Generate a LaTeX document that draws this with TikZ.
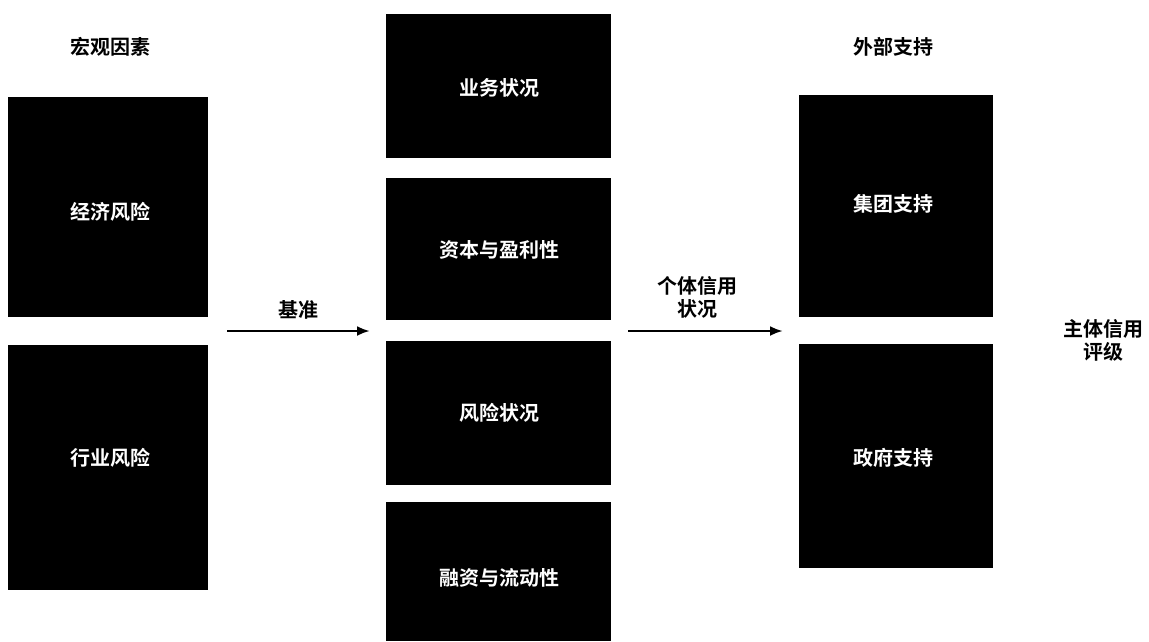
\documentclass[tikz,border=0pt]{standalone}
\usepackage{fontspec}
\newfontfamily\cjk{Noto Sans CJK SC Bold}
\usetikzlibrary{arrows.meta}
\begin{document}
\begin{tikzpicture}[x=1pt,y=-1pt,
  blk/.style={fill=black,draw=none},
  wt/.style={text=white,font=\cjk\fontsize{20}{22}\selectfont},
  bt/.style={text=black,font=\cjk\fontsize{20}{23}\selectfont,align=center},
  arr/.style={-{Latex[length=13pt,width=10pt]},line width=2.6pt}]
\useasboundingbox (0,0) rectangle (1149,641);
% left boxes
\fill[blk] (8,97) rectangle (208,317);
\fill[blk] (8,345) rectangle (208,590);
\node[wt] (econ) at (110,212) {经济风险};
\node[wt] (ind) at (110,458) {行业风险};
\node[bt] (macro) at (110,47) {宏观因素};
% middle boxes
\fill[blk] (386,14) rectangle (611,158);
\fill[blk] (386,178) rectangle (611,320);
\fill[blk] (386,341) rectangle (611,485);
\fill[blk] (386,502) rectangle (611,641);
\node[wt] (biz) at (499,88) {业务状况};
\node[wt] (cap) at (499,250) {资本与盈利性};
\node[wt] (risk) at (499,413) {风险状况};
\node[wt] (fund) at (499,578) {融资与流动性};
% right boxes
\fill[blk] (799,95) rectangle (993,317);
\fill[blk] (799,344) rectangle (993,568);
\node[wt] (grp) at (893,204) {集团支持};
\node[wt] (gov) at (893,458) {政府支持};
\node[bt] (ext) at (893,47) {外部支持};
% arrows
\coordinate (a1s) at (227,331);
\coordinate (a1e) at (370,331);
\coordinate (a2s) at (628,331);
\coordinate (a2e) at (783,331);
\draw[arr] (a1s) -- (a1e);
\draw[arr] (a2s) -- (a2e);
\node[bt] (base) at (298,310) {基准};
\node[bt] (indiv) at (697,297) {个体信用\\状况};
\node[bt] (final) at (1103,340) {主体信用\\评级};
\end{tikzpicture}
\end{document}
